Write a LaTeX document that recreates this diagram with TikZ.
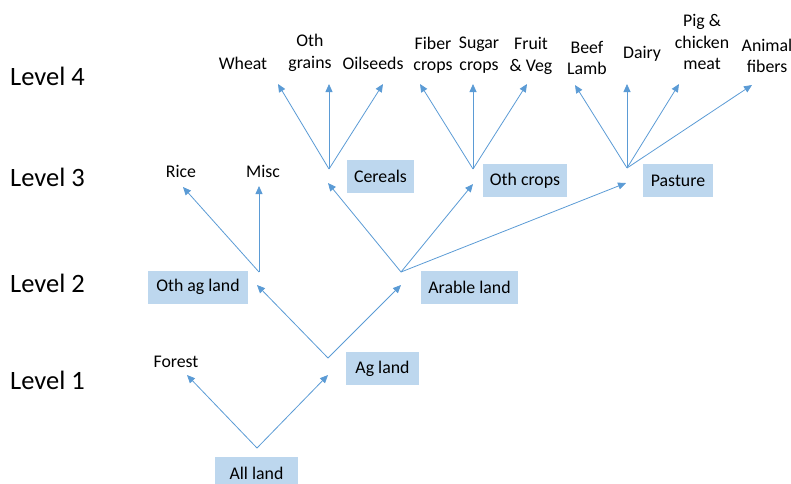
\documentclass[tikz,border=0pt]{standalone}
\usepackage{fontspec}
\setmainfont{Carlito}
\usetikzlibrary{arrows.meta}
\definecolor{boxfill}{HTML}{BDD7EE}
\definecolor{linkblue}{HTML}{5B9BD5}
\begin{document}
\begin{tikzpicture}[x=1pt,y=-1pt,
  lbl/.style={inner sep=0pt,align=center,font=\fontsize{17.8}{21.5}\selectfont},
  lvl/.style={inner sep=0pt,anchor=west,font=\fontsize{26.5}{30}\selectfont},
  group/.style={fill=boxfill,inner sep=0pt,minimum height=33pt,font=\fontsize{17.8}{21.5}\selectfont},
  link/.style={draw=linkblue,line width=0.8pt,-{Triangle[length=8pt,width=7pt]}}]
\useasboundingbox (0,0) rectangle (791,483);

% level captions
\node[lvl] (l4) at (10,76) {Level 4};
\node[lvl] (l3) at (10,177) {Level 3};
\node[lvl] (l2) at (10,283) {Level 2};
\node[lvl] (l1) at (10,380) {Level 1};

% aggregated land classes
\node[group,minimum width=83pt] (all) at (256.5,473.5) {All land};
\node[group,minimum width=73pt] (ag) at (382.5,368.5) {Ag land};
\node[group,minimum width=100pt] (othag) at (198,287) {Oth ag land};
\node[group,minimum width=97pt] (arable) at (469.5,287) {Arable land};
\node[group,minimum width=67pt] (cereals) at (380.5,176.5) {Cereals};
\node[group,minimum width=84pt] (othcrops) at (525,180.5) {Oth crops};
\node[group,minimum width=70pt] (pasture) at (678,180.5) {Pasture};

% leaf classes
\node[lbl] (forest) at (176,362) {Forest};
\node[lbl] (rice) at (181,171) {Rice};
\node[lbl] (misc) at (263,171) {Misc};
\node[lbl] (wheat) at (243,63) {Wheat};
\node[lbl] (othgr) at (310,53) {Oth\\grains};
\node[lbl] (oilseeds) at (373,63) {Oilseeds};
\node[lbl] (fiber) at (433,55) {Fiber\\crops};
\node[lbl] (sugar) at (479,55) {Sugar\\crops};
\node[lbl] (fruit) at (531,56) {Fruit\\\& Veg};
\node[lbl] (beef) at (587,58) {Beef\\Lamb};
\node[lbl] (dairy) at (642,54) {Dairy};
\node[lbl] (pig) at (702,42) {Pig \&\\chicken\\meat};
\node[lbl] (animal) at (767,56) {Animal\\fibers};

% branching points and arrow ends
\coordinate (jall) at (257,448);
\coordinate (tforest) at (187,375);
\coordinate (tag) at (328,375);
\coordinate (jag) at (328,358);
\coordinate (tothag) at (257,285);
\coordinate (tarable) at (401,285);
\coordinate (jothag) at (259,272);
\coordinate (trice) at (183,187);
\coordinate (tmisc) at (259,186);
\coordinate (jarable) at (401,272);
\coordinate (tcereals) at (328,183);
\coordinate (tothcrops) at (473,184);
\coordinate (tpasture) at (626,183);
\coordinate (jcereals) at (329,169);
\coordinate (twheat) at (278,84);
\coordinate (tothgr) at (329,84);
\coordinate (toilseeds) at (383,84);
\coordinate (jothcrops) at (473,169);
\coordinate (tfiber) at (420,84);
\coordinate (tsugar) at (473,84);
\coordinate (tfruit) at (527,84);
\coordinate (jpasture) at (627,168);
\coordinate (tbeef) at (575,85);
\coordinate (tdairy) at (627,84);
\coordinate (tpig) at (679,84);
\coordinate (tanimal) at (752,85);

% connectors
\draw[link] (jall) -- (tforest);
\draw[link] (jall) -- (tag);
\draw[link] (jag) -- (tothag);
\draw[link] (jag) -- (tarable);
\draw[link] (jothag) -- (trice);
\draw[link] (jothag) -- (tmisc);
\draw[link] (jarable) -- (tcereals);
\draw[link] (jarable) -- (tothcrops);
\draw[link] (jarable) -- (tpasture);
\draw[link] (jcereals) -- (twheat);
\draw[link] (jcereals) -- (tothgr);
\draw[link] (jcereals) -- (toilseeds);
\draw[link] (jothcrops) -- (tfiber);
\draw[link] (jothcrops) -- (tsugar);
\draw[link] (jothcrops) -- (tfruit);
\draw[link] (jpasture) -- (tbeef);
\draw[link] (jpasture) -- (tdairy);
\draw[link] (jpasture) -- (tpig);
\draw[link] (jpasture) -- (tanimal);
\end{tikzpicture}
\end{document}
